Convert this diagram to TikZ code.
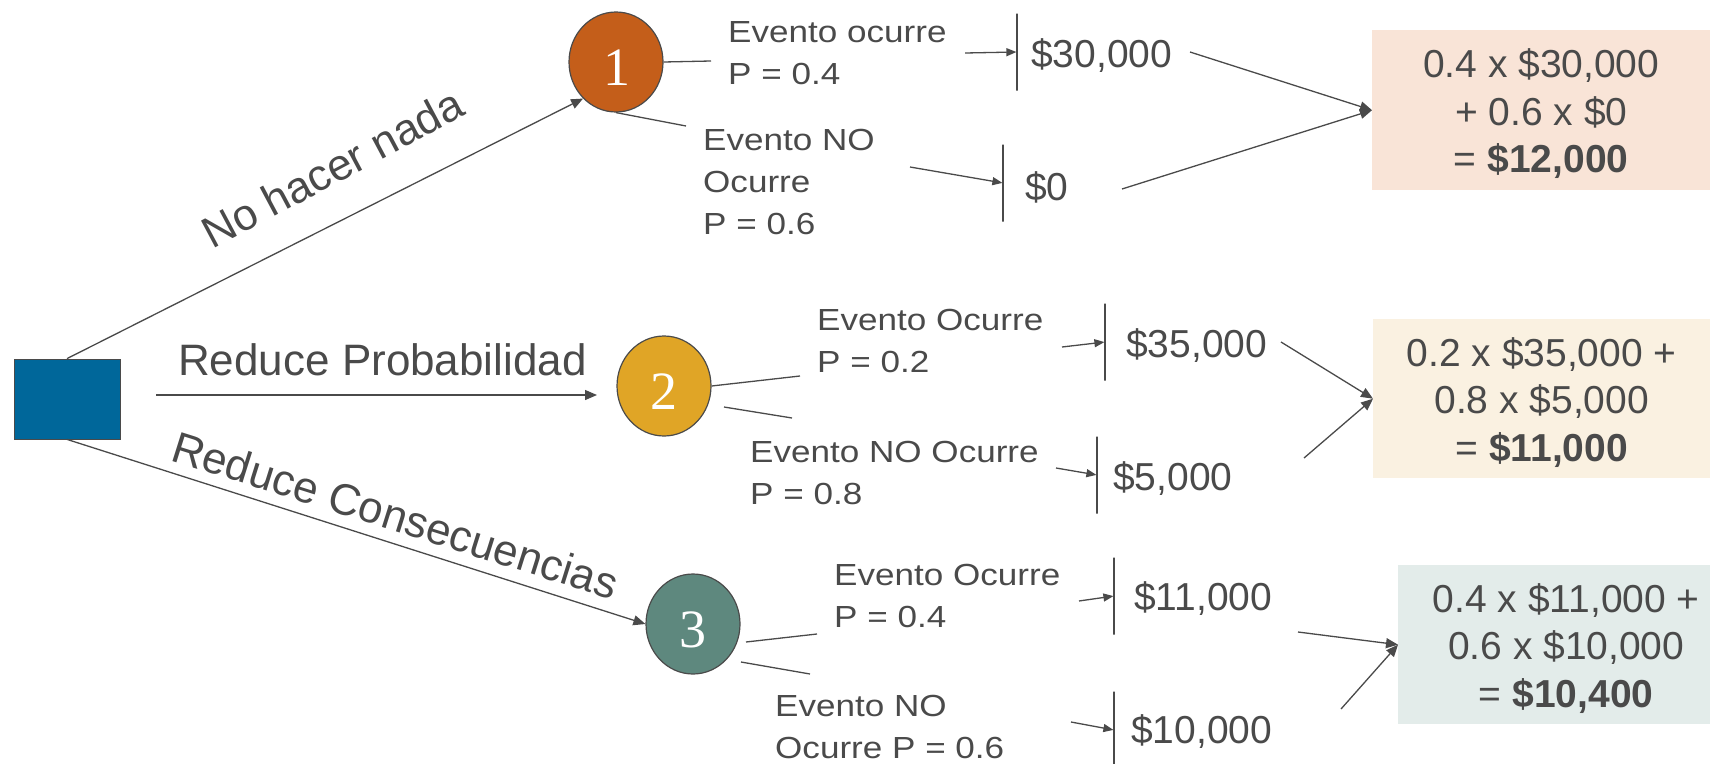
\documentclass[tikz,border=0pt]{standalone}
\usepackage{fontspec}
\setmainfont{Liberation Sans}
\newfontfamily\evfont[FakeStretch=1.15]{Liberation Sans}
\newfontfamily\numfont{Liberation Serif}
\usetikzlibrary{arrows.meta,shapes.geometric}

\definecolor{ink}{HTML}{4A4A4A}
\definecolor{decblue}{HTML}{00679A}
\definecolor{orangeC}{HTML}{C45E1A}
\definecolor{goldC}{HTML}{E0A526}
\definecolor{tealC}{HTML}{5E887E}
\definecolor{boxA}{HTML}{F9E4D7}
\definecolor{boxB}{HTML}{FAF1E1}
\definecolor{boxC}{HTML}{E3ECEA}

% first-line strut that sets the top of the expected-value texts
\newcommand\firststrut{\rule{0pt}{36pt}}

\begin{document}
\begin{tikzpicture}[x=1pt,y=-1pt,
  line/.style={draw=ink, line width=1.3pt},
  arr/.style={line, -{Triangle[length=12pt,width=10pt]}},
  smallarr/.style={line, -{Triangle[length=10pt,width=8pt]}},
  chance/.style={ellipse, draw=ink, line width=1.2pt, minimum width=94pt,
    minimum height=100pt, inner sep=0pt},
  num/.style={text=white, inner sep=0pt, font=\numfont\fontsize{54}{54}\selectfont},
  branch/.style={text=ink, inner sep=0pt, anchor=base west,
    font=\fontsize{44}{50}\selectfont},
  evlabel/.style={text=ink, inner sep=0pt, anchor=base west,
    font=\evfont\fontsize{30.5}{42}\selectfont},
  val/.style={text=ink, inner sep=0pt, anchor=base west,
    font=\fontsize{39}{46}\selectfont},
  bar/.style={rectangle, draw=ink, line width=1.2pt, minimum width=0pt,
    minimum height=77pt, inner sep=0pt},
  result/.style={rectangle, anchor=north west, inner sep=0pt, text=ink,
    align=center, font=\fontsize{39}{47.5}\selectfont}
]
\useasboundingbox (0,0) rectangle (1710,763);

% decision square
\node[rectangle, draw=ink, line width=0.8pt, fill=decblue,
  minimum width=106pt, minimum height=80pt, inner sep=0pt] (sq) at (67,399) {};

% chance nodes
\node[chance, fill=orangeC] (c1) at (616,62) {};
\node[chance, fill=goldC]   (c2) at (664,386) {};
\node[chance, fill=tealC]   (c3) at (693,624) {};
\node[num] (n1) at (617,68) {1};
\node[num] (n2) at (664,392) {2};
\node[num] (n3) at (693,630) {3};

% alternatives
\coordinate (p2s) at (156,395);
\coordinate (p2e) at (597,395);
\draw[arr] (sq.north) -- (c1.228);
\draw[arr] (p2s) -- (p2e);
\draw[arr] (sq.south) -- (c3.west);
\node[branch, rotate=28] (l1) at (212,250) {No hacer nada};
\node[branch] (l2) at (178,375) {Reduce Probabilidad};
\node[branch, rotate=-17.5] (l3) at (169,460) {Reduce Consecuencias};

% event labels
\node[evlabel] (e1a) at (728,42) {\begin{tabular}[t]{@{}l@{}}Evento ocurre\\P = 0.4\end{tabular}};
\node[evlabel] (e1b) at (703,150) {\begin{tabular}[t]{@{}l@{}}Evento NO\\Ocurre\\P = 0.6\end{tabular}};
\node[evlabel] (e2a) at (817,330) {\begin{tabular}[t]{@{}l@{}}Evento Ocurre\\P = 0.2\end{tabular}};
\node[evlabel] (e2b) at (750,462) {\begin{tabular}[t]{@{}l@{}}Evento NO Ocurre\\P = 0.8\end{tabular}};
\node[evlabel] (e3a) at (834,585) {\begin{tabular}[t]{@{}l@{}}Evento Ocurre\\P = 0.4\end{tabular}};
\node[evlabel] (e3b) at (775,716) {\begin{tabular}[t]{@{}l@{}}Evento NO\\Ocurre P = 0.6\end{tabular}};

% outcome branches leaving the chance nodes
\coordinate (q1a) at (711,61);
\coordinate (q1b) at (686,126);
\coordinate (q2a) at (800,376);
\coordinate (r2b) at (724,407);
\coordinate (q2b) at (792,418);
\coordinate (r3a) at (746,642);
\coordinate (q3a) at (817,634);
\coordinate (r3b) at (741,662);
\coordinate (q3b) at (810,674);
\draw[line] (c1.east) -- (q1a);
\draw[line] (c1.south) -- (q1b);
\draw[line] (c2.east) -- (q2a);
\draw[line] (r2b) -- (q2b);
\draw[line] (r3a) -- (q3a);
\draw[line] (r3b) -- (q3b);

% payoff bars and values
\node[bar] (k1a) at (1017,52) {};
\node[bar] (k1b) at (1003,183) {};
\node[bar] (k2a) at (1105,342) {};
\node[bar] (k2b) at (1097,475) {};
\node[bar] (k3a) at (1114,596) {};
\node[bar] (k3b) at (1114,730) {};
\node[val] (v1a) at (1031,67) {\$30,000};
\node[val] (v1b) at (1025,200) {\$0};
\node[val] (v2a) at (1126,357) {\$35,000};
\node[val] (v2b) at (1113,490) {\$5,000};
\node[val] (v3a) at (1134,610) {\$11,000};
\node[val] (v3b) at (1131,743) {\$10,000};

\coordinate (s1a) at (965,53);
\coordinate (s1b) at (910,167);
\coordinate (s2a) at (1062,347);
\coordinate (s2b) at (1056,468);
\coordinate (s3a) at (1079,601);
\coordinate (s3b) at (1071,722);
\draw[smallarr] (s1a) -- (k1a);
\draw[smallarr] (s1b) -- (k1b);
\draw[smallarr] (s2a) -- (k2a);
\draw[smallarr] (s2b) -- (k2b);
\draw[smallarr] (s3a) -- (k3a);
\draw[smallarr] (s3b) -- (k3b);

% expected values
\node[result, fill=boxA, minimum width=338pt, minimum height=160pt] (r1) at (1372,30)
  {\firststrut 0.4 x \$30,000\\+ 0.6 x \$0\\= \textbf{\$12,000}};
\node[result, fill=boxB, minimum width=337pt, minimum height=159pt] (r2) at (1373,319)
  {\firststrut 0.2 x \$35,000 +\\0.8 x \$5,000\\= \textbf{\$11,000}};
\node[result, fill=boxC, minimum width=336pt, minimum height=159pt] (r3) at (1398,565)
  {\firststrut 0.4 x \$11,000 +\\0.6 x \$10,000\\= \textbf{\$10,400}};

\coordinate (t1a) at (1190,52);
\coordinate (t1b) at (1122,189);
\coordinate (t2a) at (1281,342);
\coordinate (t2b) at (1304,458);
\coordinate (t3a) at (1298,632);
\coordinate (t3b) at (1341,709);
\draw[arr] (t1a) -- (r1.west);
\draw[arr] (t1b) -- (r1.west);
\draw[arr] (t2a) -- (r2.west);
\draw[arr] (t2b) -- (r2.west);
\draw[arr] (t3a) -- (r3.west);
\draw[arr] (t3b) -- (r3.west);
\end{tikzpicture}
\end{document}
